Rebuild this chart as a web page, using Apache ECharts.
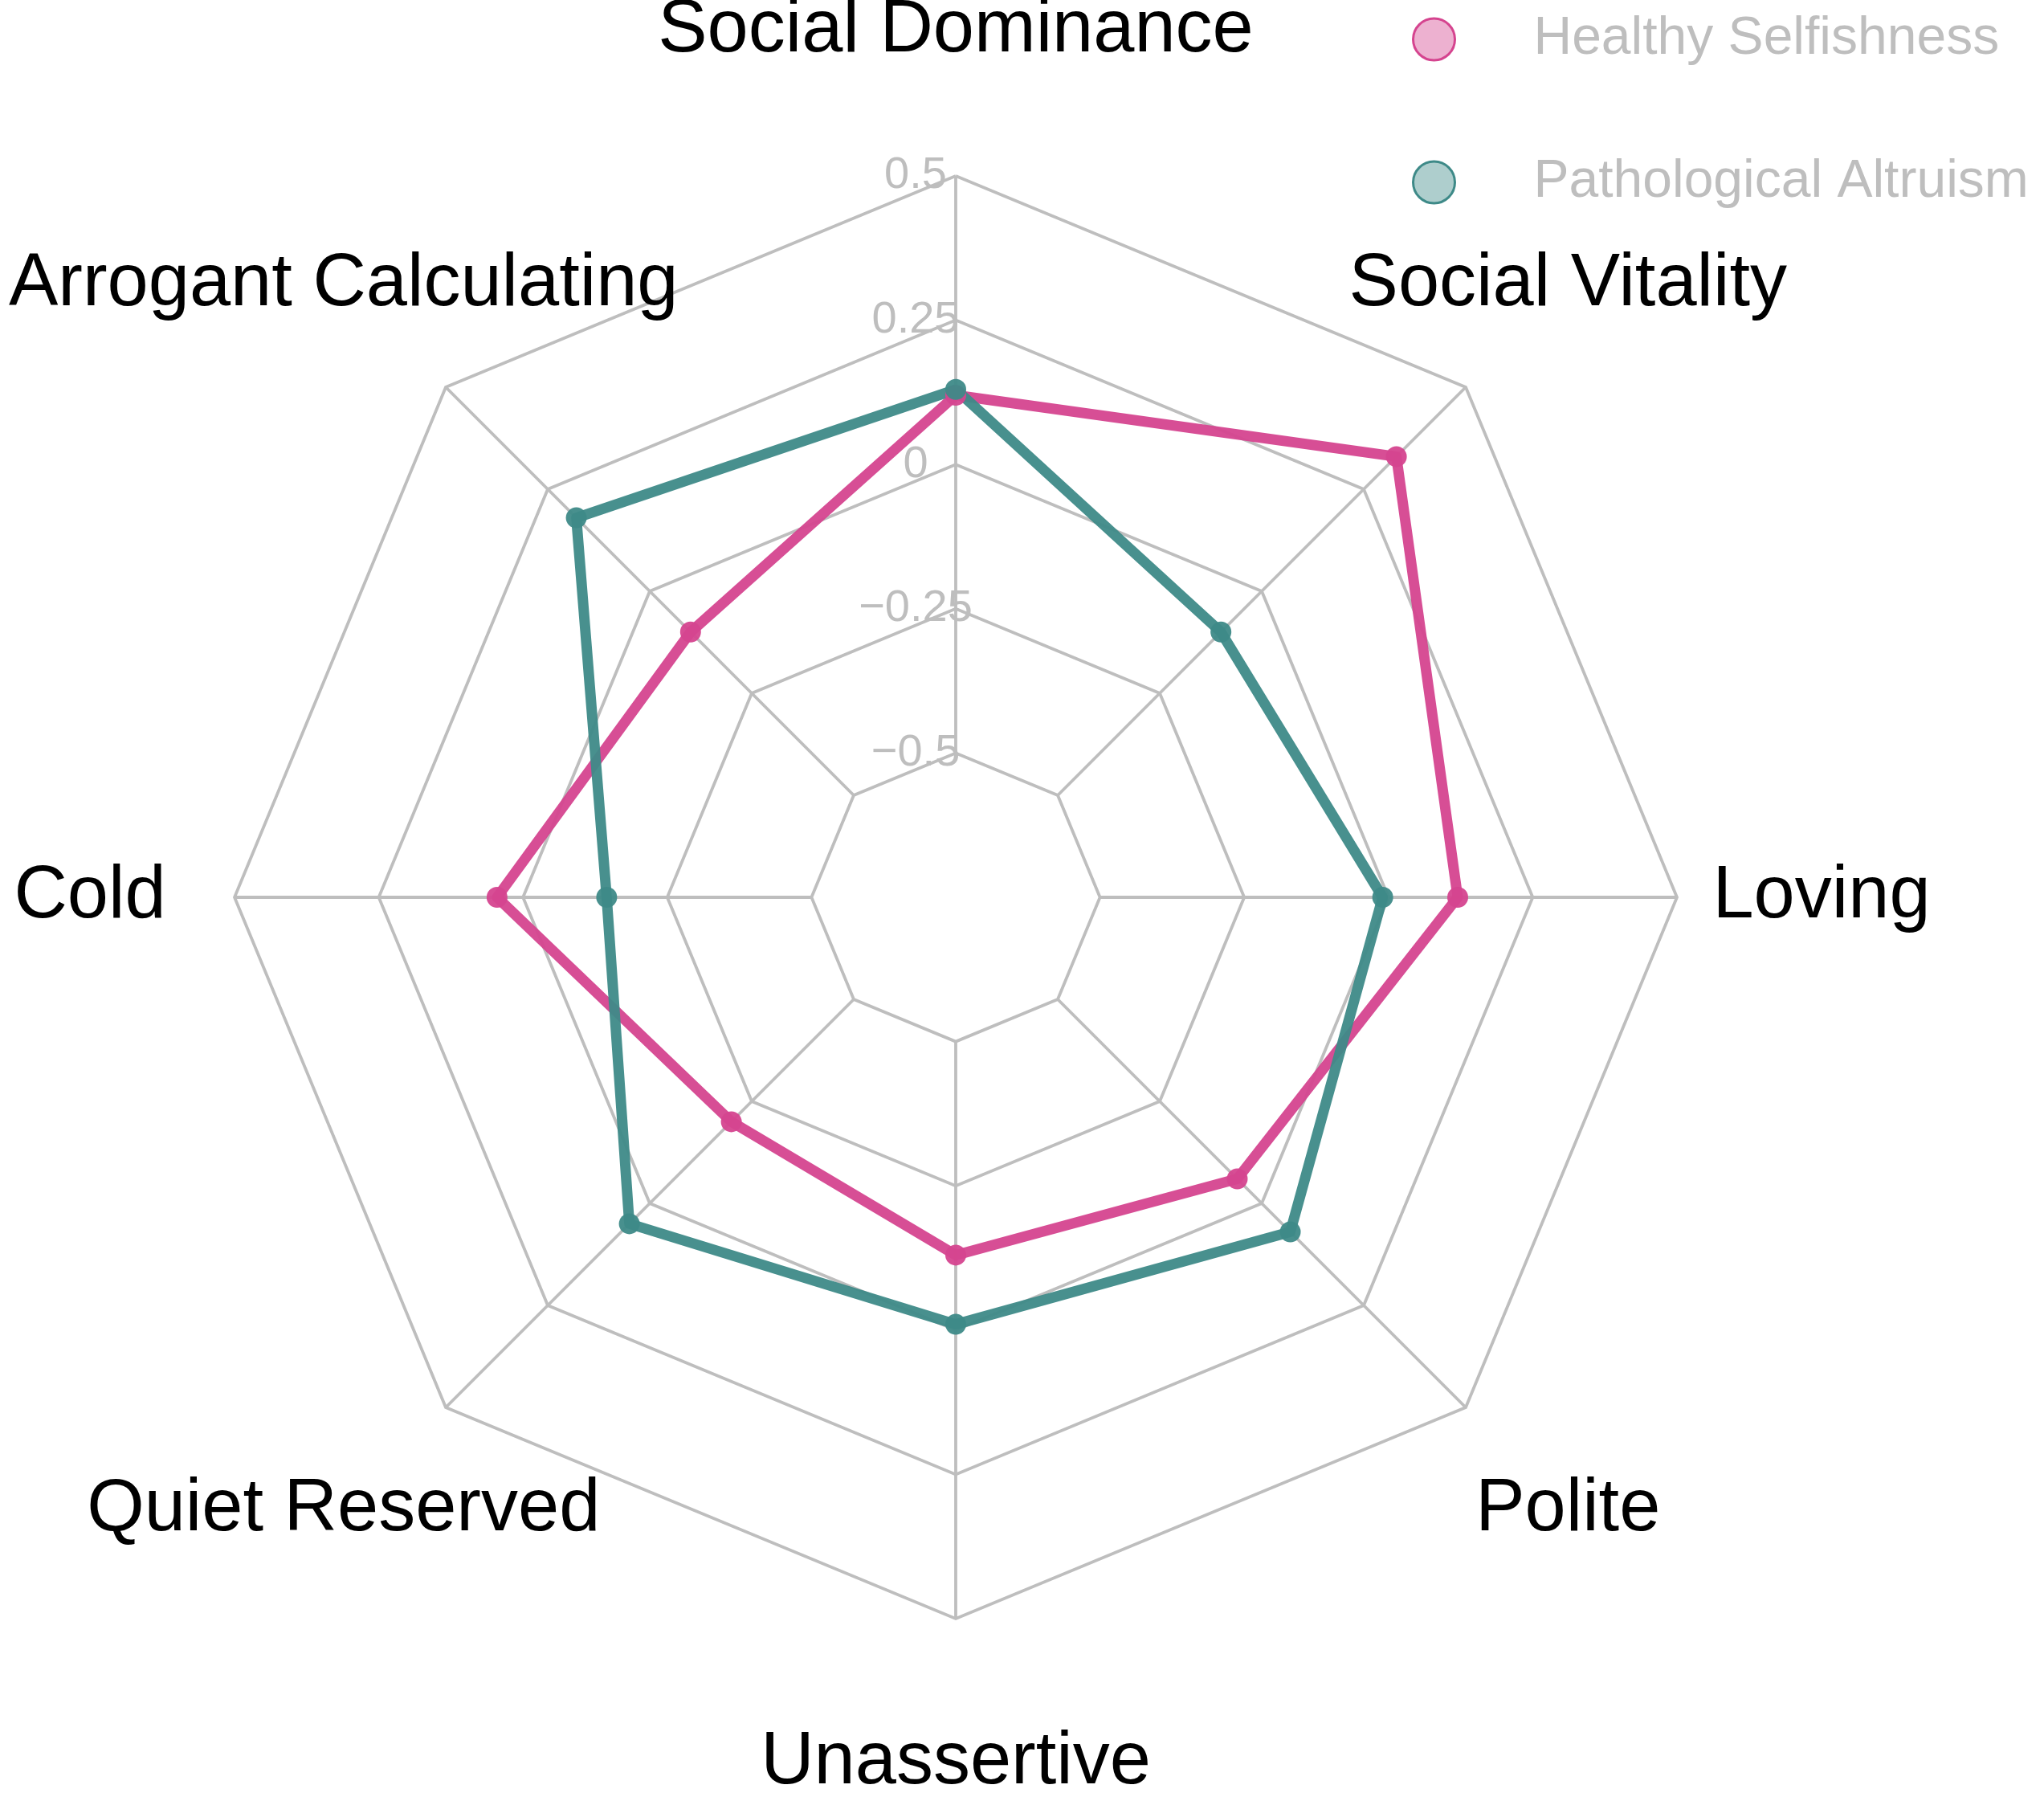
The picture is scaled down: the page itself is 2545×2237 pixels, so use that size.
<!DOCTYPE html>
<html>
<head>
<meta charset="utf-8">
<script src="https://cdn.jsdelivr.net/npm/echarts@6/dist/echarts.min.js"></script>
<style>
html,body{margin:0;padding:0;background:#fff;}
#chart{width:2545px;height:2237px;}
</style>
</head>
<body>
<div id="chart"></div>
<script>
// Categories in ECharts radar order (top, then counter-clockwise)
const categories = ['Social Dominance', 'Arrogant Calculating', 'Cold', 'Quiet Reserved', 'Unassertive', 'Polite', 'Loving', 'Social Vitality'];
const healthySelfishness = [0.12, -0.10, 0.045, -0.20, -0.13, -0.06, 0.12, 0.33];
const pathologicalAltruism = [0.13, 0.18, -0.145, 0.05, -0.01, 0.07, -0.01, -0.10];
const seriesNames = ['Healthy Selfishness', 'Pathological Altruism'];
const tickValues = [-0.5, -0.25, 0, 0.25, 0.5];
const tickLabels = ['\u22120.5', '\u22120.25', '0', '0.25', '0.5'];
const axisMin = -0.75, axisMax = 0.5;

const pink = '#D5448F';
const teal = '#3E8A88';
const grid = '#BEBEBE';
const font = '"Liberation Sans", Arial, Helvetica, sans-serif';

const radarRadius = 898;
const ringStep = radarRadius / 5;   // spokes start at the innermost ring (-0.5)

const indicator = categories.map((c, i) => {
  const ind = { name: c, min: axisMin, max: axisMax };
  if (i === 0) ind.axisLabel = { show: true };
  return ind;
});

const chart = echarts.init(document.getElementById('chart'));
chart.setOption({
  backgroundColor: '#ffffff',
  animation: false,
  legend: {
    orient: 'vertical',
    left: 1753,
    top: 11,
    itemWidth: 52,
    itemHeight: 52,
    itemGap: 112,
    selectedMode: false,
    icon: 'circle',
    textStyle: { fontSize: 66, color: '#BEBEBE', fontFamily: font, lineHeight: 66, padding: [0, 0, 0, 93] },
    data: [
      { name: seriesNames[0], itemStyle: { color: 'rgba(213,68,143,0.42)', borderColor: pink, borderWidth: 3, opacity: 1 } },
      { name: seriesNames[1], itemStyle: { color: 'rgba(62,138,136,0.42)', borderColor: teal, borderWidth: 3, opacity: 1 } }
    ]
  },
  radar: {
    center: [1190, 1117],
    radius: radarRadius,
    startAngle: 90,
    shape: 'polygon',
    splitNumber: 5,
    indicator: indicator,
    axisNameGap: 180,
    axisName: {
      color: '#000000',
      fontSize: 92,
      fontFamily: font,
      align: 'center',
      verticalAlign: 'middle'
    },
    axisLine: {
      show: true,
      lineStyle: {
        color: grid, width: 3.8, cap: 'butt',
        type: [radarRadius - ringStep, ringStep],
        dashOffset: radarRadius - ringStep
      }
    },
    splitLine: { show: true, lineStyle: { color: grid, width: 3.8 } },
    splitArea: { show: false },
    axisTick: { show: false },
    axisLabel: {
      show: false,
      color: '#BEBEBE',
      fontSize: 56,
      fontFamily: font,
      margin: 50,
      align: 'center',
      verticalAlign: 'middle',
      formatter: function (v) {
        for (let k = 0; k < tickValues.length; k++) {
          if (Math.abs(v - tickValues[k]) < 1e-9) return tickLabels[k];
        }
        return '';
      }
    }
  },
  series: [{
    type: 'radar',
    symbol: 'circle',
    symbolSize: 26,
    data: [
      {
        name: seriesNames[0],
        value: healthySelfishness,
        lineStyle: { color: pink, width: 13, opacity: 0.95 },
        itemStyle: { color: pink, opacity: 0.95 }
      },
      {
        name: seriesNames[1],
        value: pathologicalAltruism,
        lineStyle: { color: teal, width: 13, opacity: 0.95 },
        itemStyle: { color: teal, opacity: 0.95 }
      }
    ]
  }]
});
</script>
</body>
</html>
